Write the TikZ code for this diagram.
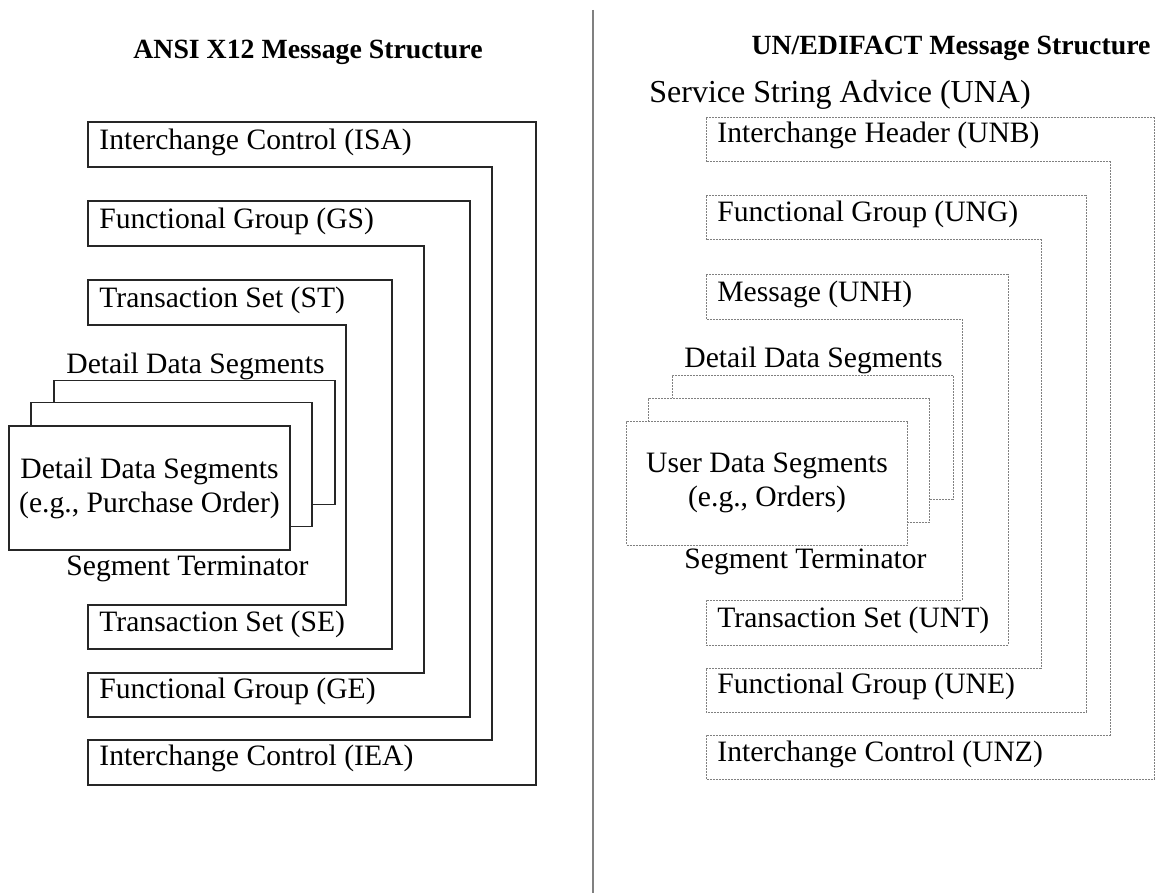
\documentclass[tikz,border=0pt]{standalone}
\usepackage{fontspec}
\setmainfont{Liberation Serif}
\usepackage{tikz}
\definecolor{x12-line}{gray}{0.15}
\definecolor{edi-line}{gray}{0.5}

\begin{document}
\begin{tikzpicture}[x=0.5pt, y=-0.5pt,
		lbl/.style={anchor=base west, inner sep=0pt, font=\fontsize{14.8pt}{17pt}\selectfont},
		headline/.style={anchor=base, inner sep=0pt, font=\fontsize{13.9pt}{16pt}\selectfont\bfseries},
		x12/.style={draw=x12-line, line width=0.6pt},
		edi/.style={draw=edi-line, line width=0.5pt, dash pattern=on 1pt off 0.5pt},
		segbox/.style={fill=white, minimum width=140.5pt, minimum height=62pt, inner sep=0pt, align=center, font=\fontsize{14.8pt}{17pt}\selectfont}]
	\useasboundingbox (0,0) rectangle (1156,893);
	\draw[gray, line width=0.6pt] (593,10) -- (593,893);
	% ANSI X12
	\node[headline] (x12title) at (308,59) {ANSI X12 Message Structure};
	\foreach \xa/\xi/\xo/\ya/\yb/\yc/\yd in {88/492/536/122/167/740/785, 88/424/470/201/246/673/717, 88/346/392/280/325/605/649}
		\draw[x12] (\xa,\ya) -- (\xo,\ya) -- (\xo,\yd) -- (\xa,\yd) -- (\xa,\yc) -- (\xi,\yc) -- (\xi,\yb) -- (\xa,\yb) -- cycle;
	\node[lbl] (isa) at (99,150) {Interchange Control (ISA)};
	\node[lbl] (gs) at (99,228) {Functional Group (GS)};
	\node[lbl] (st) at (99,307) {Transaction Set (ST)};
	\node[lbl] (dds) at (66,373) {Detail Data Segments};
	\node[segbox, x12] (seg3) at (194.5,442.5) {};
	\node[segbox, x12] (seg2) at (171.5,464.5) {};
	\node[segbox, x12] (seg1) at (149.5,488) {Detail Data Segments\\(e.g., Purchase Order)};
	\node[lbl] (term) at (66,575) {Segment Terminator};
	\node[lbl] (se) at (99,631) {Transaction Set (SE)};
	\node[lbl] (ge) at (99,698) {Functional Group (GE)};
	\node[lbl] (iea) at (99,765) {Interchange Control (IEA)};
	% UN/EDIFACT
	\node[headline] (edititle) at (951,55) {UN/EDIFACT Message Structure};
	\node[lbl, font=\fontsize{16pt}{18pt}\selectfont] (una) at (649,103) {Service String Advice (UNA)};
	\foreach \xa/\xi/\xo/\ya/\yb/\yc/\yd in {706/1110/1154/118/162/735/779, 706/1041/1086/196/240/668/712, 706/962/1008/275/319/600/645}
		\draw[edi] (\xa,\ya) -- (\xo,\ya) -- (\xo,\yd) -- (\xa,\yd) -- (\xa,\yc) -- (\xi,\yc) -- (\xi,\yb) -- (\xa,\yb) -- cycle;
	\node[lbl] (unb) at (717,143) {Interchange Header (UNB)};
	\node[lbl] (ung) at (717,222) {Functional Group (UNG)};
	\node[lbl] (unh) at (717,301) {Message (UNH)};
	\node[lbl] (udds) at (684,367) {Detail Data Segments};
	\node[segbox, edi] (useg3) at (812.5,437) {};
	\node[segbox, edi] (useg2) at (789,460) {};
	\node[segbox, edi] (useg1) at (767,483) {User Data Segments\\(e.g., Orders)};
	\node[lbl] (uterm) at (684,568) {Segment Terminator};
	\node[lbl] (unt) at (717,627) {Transaction Set (UNT)};
	\node[lbl] (une) at (717,693) {Functional Group (UNE)};
	\node[lbl] (unz) at (717,761) {Interchange Control (UNZ)};
\end{tikzpicture}
\end{document}
